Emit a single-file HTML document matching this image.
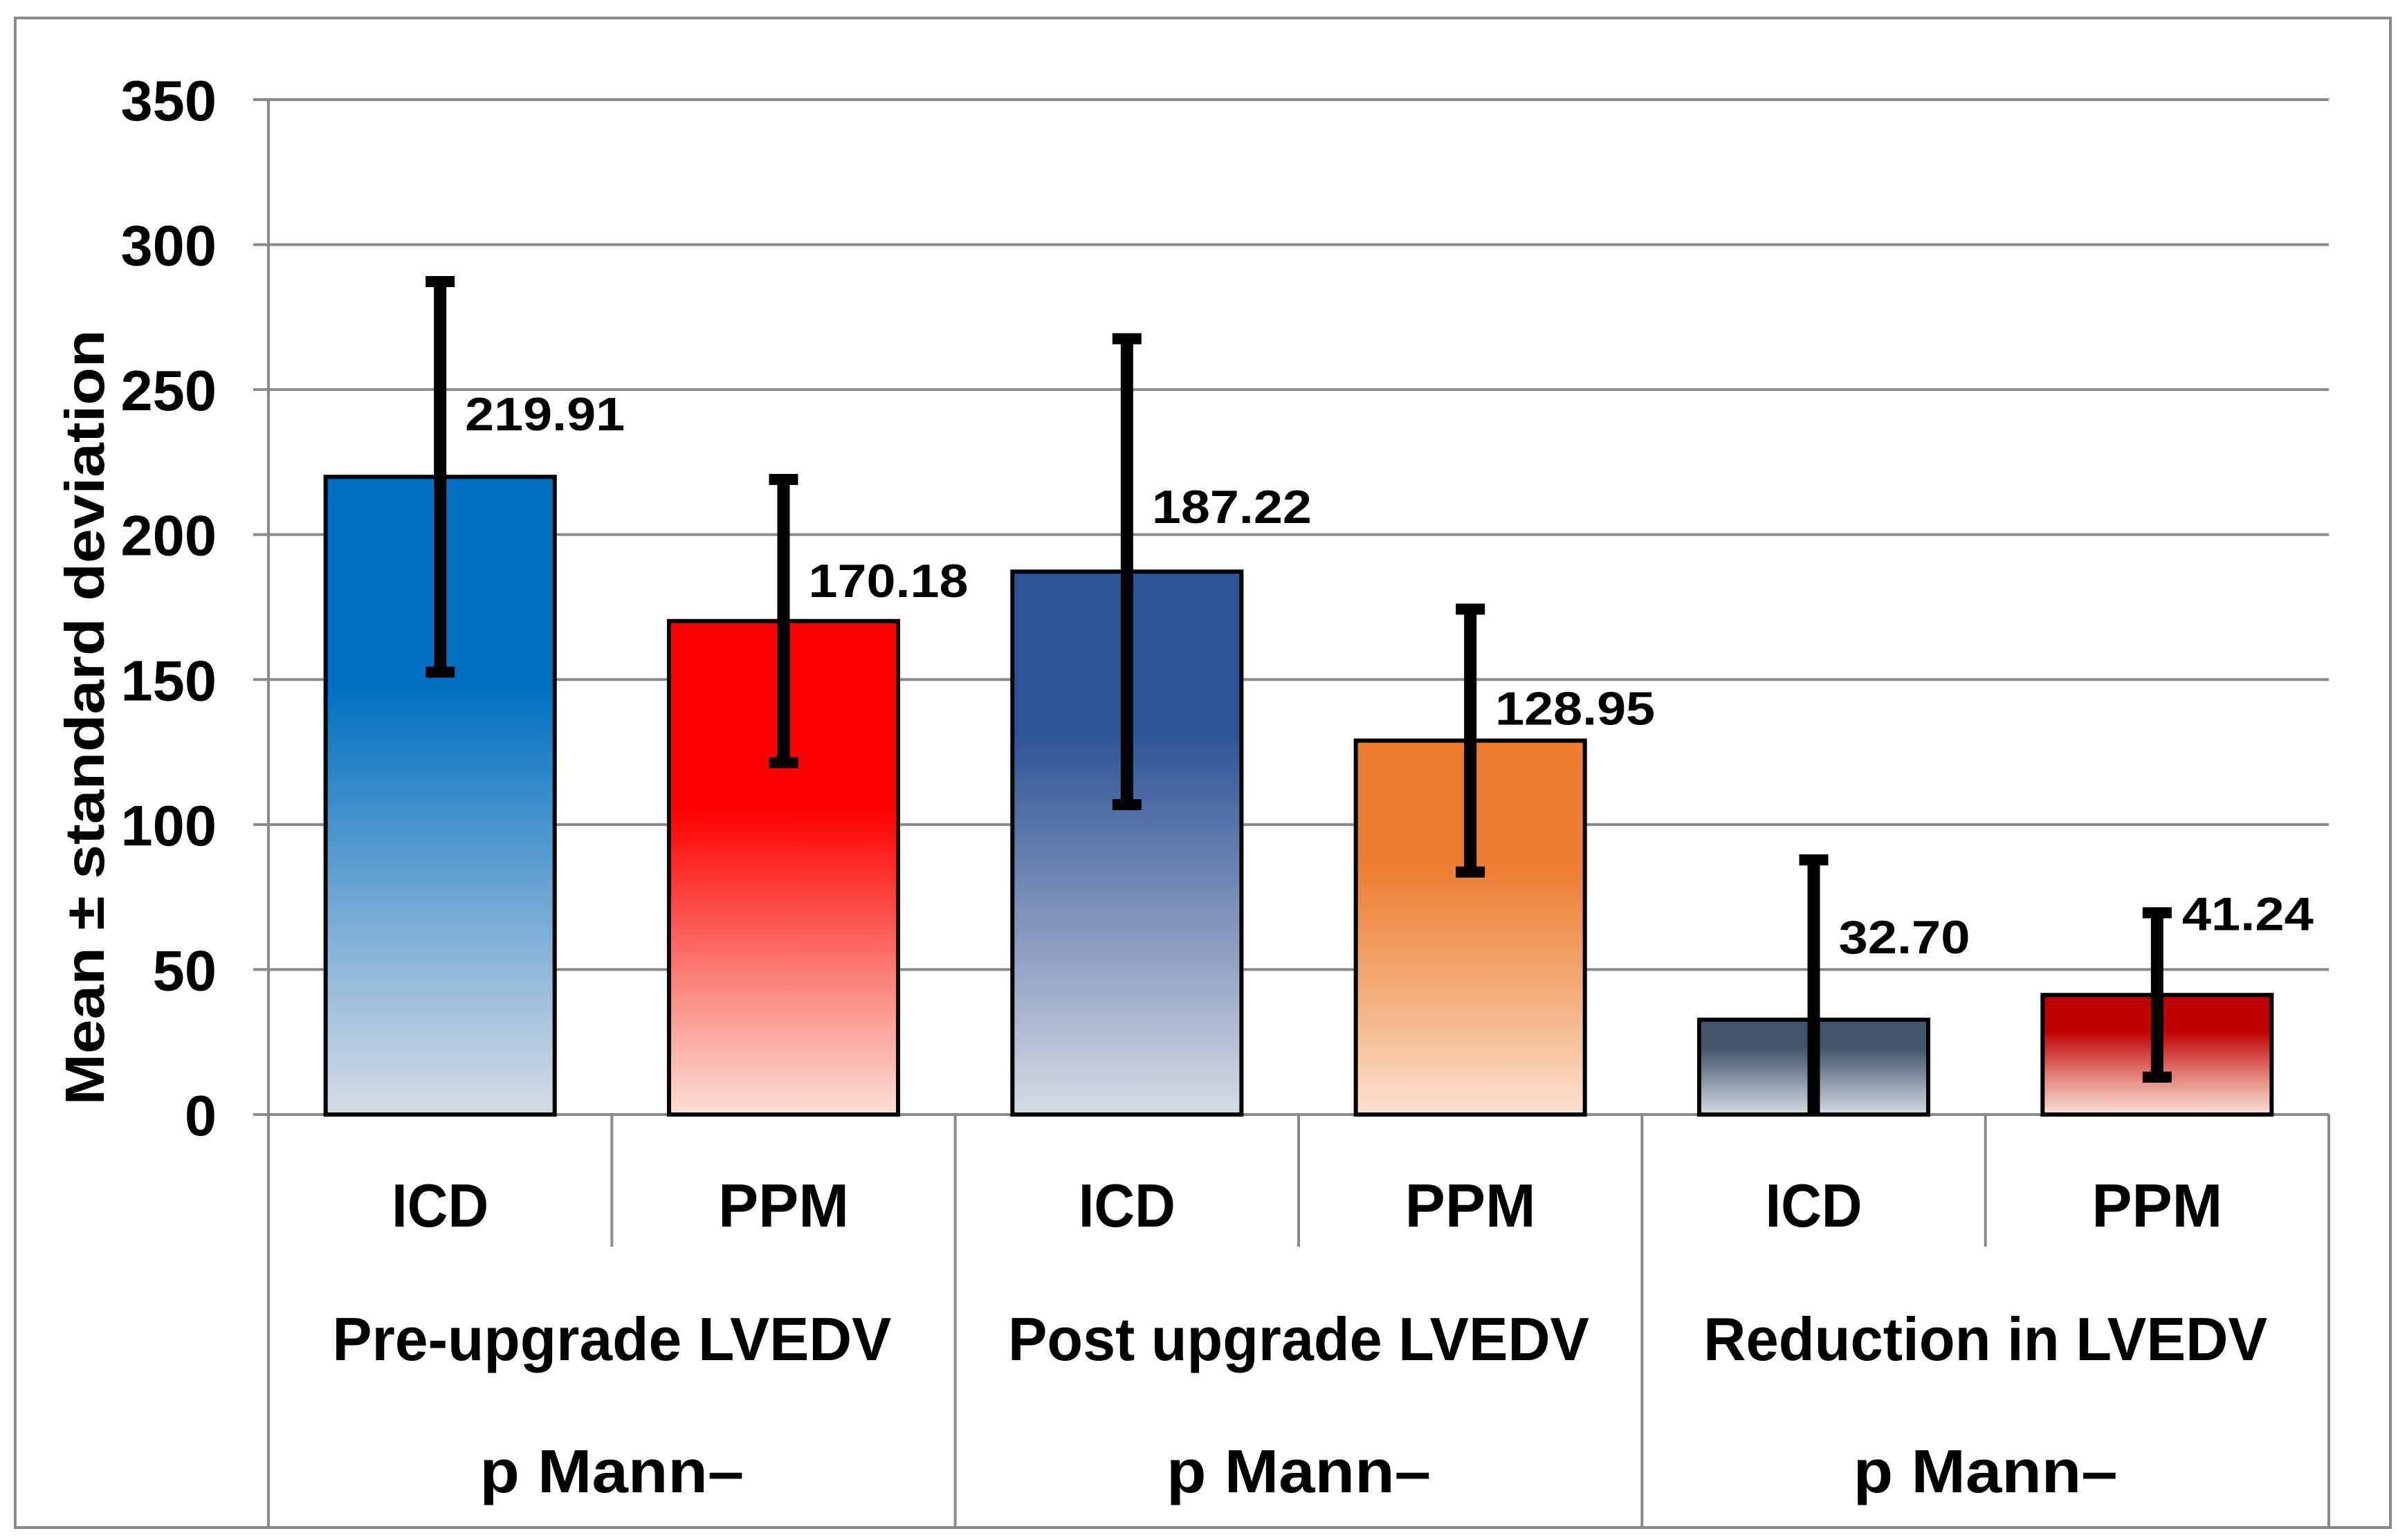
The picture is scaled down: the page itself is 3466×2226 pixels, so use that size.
<!DOCTYPE html>
<html><head><meta charset="utf-8"><style>
html,body{margin:0;padding:0;background:#fff;}
svg{display:block;}
</style></head><body>
<svg id="chart" width="3466" height="2226" viewBox="0 0 3466 2226" xmlns="http://www.w3.org/2000/svg">
<defs>
<linearGradient id="g0" x1="0" y1="0" x2="0" y2="1"><stop offset="0" stop-color="#0070c0"/><stop offset="0.33" stop-color="#0070c0"/><stop offset="0.7" stop-color="#7aadd6"/><stop offset="1" stop-color="#d6dce5"/></linearGradient>
<linearGradient id="g1" x1="0" y1="0" x2="0" y2="1"><stop offset="0" stop-color="#ff0000"/><stop offset="0.38" stop-color="#ff0000"/><stop offset="0.72" stop-color="#fb8077"/><stop offset="1" stop-color="#fbe0d6"/></linearGradient>
<linearGradient id="g2" x1="0" y1="0" x2="0" y2="1"><stop offset="0" stop-color="#2f5597"/><stop offset="0.3" stop-color="#2f5597"/><stop offset="0.7" stop-color="#8f9fc2"/><stop offset="1" stop-color="#d6dce5"/></linearGradient>
<linearGradient id="g3" x1="0" y1="0" x2="0" y2="1"><stop offset="0" stop-color="#ed7d31"/><stop offset="0.33" stop-color="#ed7d31"/><stop offset="0.7" stop-color="#f4b080"/><stop offset="1" stop-color="#fbe2d2"/></linearGradient>
<linearGradient id="g4" x1="0" y1="0" x2="0" y2="1"><stop offset="0" stop-color="#44546a"/><stop offset="0.3" stop-color="#44546a"/><stop offset="0.7" stop-color="#96a1b1"/><stop offset="1" stop-color="#d6dce5"/></linearGradient>
<linearGradient id="g5" x1="0" y1="0" x2="0" y2="1"><stop offset="0" stop-color="#c00000"/><stop offset="0.3" stop-color="#c00000"/><stop offset="0.7" stop-color="#e58a80"/><stop offset="1" stop-color="#fbe0d6"/></linearGradient>
</defs>
<rect x="22" y="26" width="3433" height="2182" fill="#fff" stroke="#898989" stroke-width="4"/>
<g id="grid"></g>
<g id="axes"></g>
<g id="bars"></g>
<g id="labels"></g>
<text transform="translate(150,1037) rotate(-90)" text-anchor="middle" font-family="Liberation Sans, sans-serif" font-weight="bold" font-size="80" textLength="1121" lengthAdjust="spacingAndGlyphs">Mean ± standard deviation</text>
</svg>
<script>
const categories = ["ICD","PPM","ICD","PPM","ICD","PPM"];
const groups = ["Pre-upgrade LVEDV","Post upgrade LVEDV","Reduction in LVEDV"];
const groupNotes = ["p Mann–","p Mann–","p Mann–"];
const values = [219.91,170.18,187.22,128.95,32.70,41.24];
const sds = [69,50.5,82,47,56.8,30];
const valueLabels = ["219.91","170.18","187.22","128.95","32.70","41.24"];
const labelY = [236,178.5,204,134.5,55.6,63.6];
const yTicks = [0,50,100,150,200,250,300,350];
const fills = ["url(#g0)","url(#g1)","url(#g2)","url(#g3)","url(#g4)","url(#g5)"];

const NS = "http://www.w3.org/2000/svg";
const X0 = 388, X1 = 3366, Y0 = 1611, Y350 = 144;
const catW = (X1 - X0) / categories.length;
function y(v){ return Y0 - (v / 350) * (Y0 - Y350); }
function xc(i){ return X0 + catW * (i + 0.5); }
function mk(tag, attrs, parent, txt){
  const e = document.createElementNS(NS, tag);
  for (const k in attrs) e.setAttribute(k, attrs[k]);
  if (txt !== undefined) e.textContent = txt;
  parent.appendChild(e); return e;
}
const grid = document.getElementById('grid');
const axes = document.getElementById('axes');
const bars = document.getElementById('bars');
const labels = document.getElementById('labels');

yTicks.forEach(t => {
  if (t > 0) {
    const l = mk('line', {x1:X0-22, x2:X1, y1:y(t), y2:y(t), stroke:'#898989', 'stroke-width':4}, grid);
    
    
  }
  const tx = mk('text', {x:313, y:y(t)+30, 'text-anchor':'end', 'font-family':'Liberation Sans, sans-serif', 'font-weight':'bold', 'font-size':83}, axes, String(t));
  
  
});
let ax = mk('line', {x1:X0, x2:X0, y1:Y350, y2:2208, stroke:'#898989', 'stroke-width':4}, axes);


ax = mk('line', {x1:X0-22, x2:X1, y1:Y0, y2:Y0, stroke:'#898989', 'stroke-width':4}, axes);


for (let i = 1; i <= categories.length; i++) {
  const x = X0 + catW * i;
  const full = (i % 2 === 0);
  const s = mk('line', {x1:x, x2:x, y1:Y0, y2: full ? 2208 : 1802, stroke:'#898989', 'stroke-width':4}, axes);
  
  
}
const fam = '"Liberation Sans Narrow", "Liberation Sans", sans-serif';
categories.forEach((c, i) => {
  const t = mk('text', {x:xc(i), y:1773, 'text-anchor':'middle', 'font-family':fam, 'font-weight':'bold', 'font-size':88, textLength: c === 'ICD' ? 140 : 189, lengthAdjust:'spacingAndGlyphs'}, axes, c);
  
  
});
const gl = [808, 840, 815];
groups.forEach((g, k) => {
  const cx = X0 + catW * (2 * k + 1);
  const t = mk('text', {x:cx, y:1966, 'text-anchor':'middle', 'font-family':fam, 'font-weight':'bold', 'font-size':88, textLength: gl[k], lengthAdjust:'spacingAndGlyphs'}, axes, g);
  
  
  const n = mk('text', {x:cx, y:2157, 'text-anchor':'middle', 'font-family':fam, 'font-weight':'bold', 'font-size':88, textLength:382, lengthAdjust:'spacingAndGlyphs'}, axes, groupNotes[k]);
  
  
});
const bw = catW * 0.667;
values.forEach((v, i) => {
  const cx = xc(i);
  const r = mk('rect', {x:cx-bw/2, y:y(v), width:bw, height:Y0-y(v), fill:fills[i], stroke:'#000', 'stroke-width':6}, bars);
  
  
  const hi = v + sds[i], lo = Math.max(0, v - sds[i]);
  const e = mk('line', {x1:cx, x2:cx, y1:y(hi), y2:y(lo), stroke:'#000', 'stroke-width':18}, bars);
  
  
  const c1 = mk('line', {x1:cx-21, x2:cx+21, y1:y(hi)+7, y2:y(hi)+7, stroke:'#000', 'stroke-width':16}, bars);
  
  
  if (v - sds[i] > 0) {
    const c2 = mk('line', {x1:cx-21, x2:cx+21, y1:y(lo)-7, y2:y(lo)-7, stroke:'#000', 'stroke-width':16}, bars);
    
    
  }
  const lab = mk('text', {x:cx+36, y:y(labelY[i]), 'font-family':fam, 'font-weight':'bold', 'font-size':68, textLength: valueLabels[i].length > 5 ? 231 : 190, lengthAdjust:'spacingAndGlyphs'}, labels, valueLabels[i]);
  
  
});
</script>
</body></html>
